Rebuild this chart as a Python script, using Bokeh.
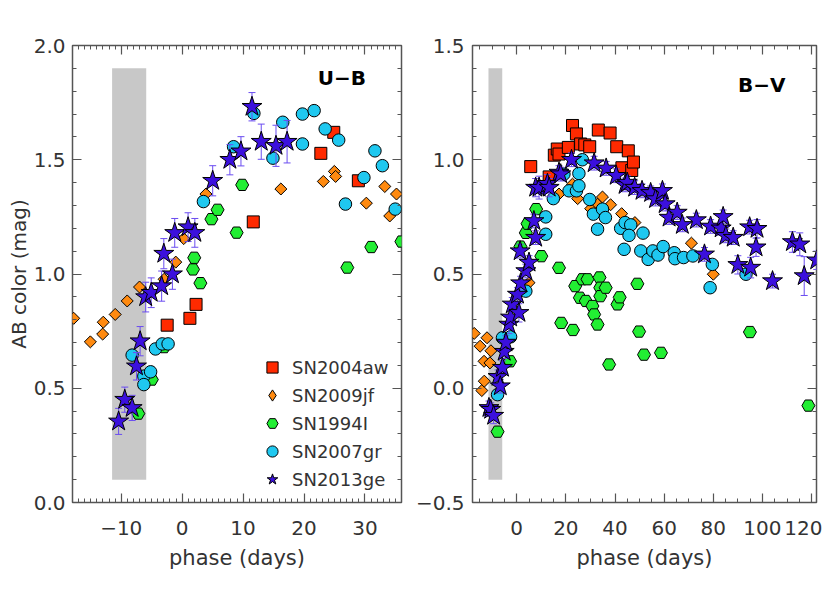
import numpy as np
from bokeh.plotting import figure
from bokeh.layouts import row
from bokeh.models import FixedTicker, LinearAxis, Range1d, Label, Legend, LegendItem
from bokeh.embed import file_html
from bokeh.resources import INLINE

# ---------------- data: U-B panel ----------------
ub_04aw_x = [-2.46, 1.27, 2.28, 11.67, 22.76, 24.88, 28.92]
ub_04aw_y = [0.776, 0.806, 0.867, 1.228, 1.528, 1.62, 1.408]

ub_09jf_x = [-17.8, -15.07, -13.05, -12.95, -10.99, -9.02, -7.0, -2.96, -1.05, 0.26, 3.9,
             16.2, 23.17, 24.98, 25.19, 30.23, 33.26, 34.07, 35.18]
ub_09jf_y = [0.806, 0.703, 0.737, 0.789, 0.823, 0.882, 0.943, 0.977, 1.052, 1.155, 1.35,
             1.372, 1.405, 1.449, 1.427, 1.31, 1.383, 1.254, 1.35]

ub_94I_x = [-7.2, -4.98, -2.96, 1.78, 1.98, 2.99, 4.8, 5.81, 8.94, 9.85, 27.1, 31.04, 35.98]
ub_94I_y = [0.389, 0.538, 0.68, 1.02, 1.071, 0.96, 1.24, 1.281, 1.181, 1.39, 1.028, 1.118, 1.142]

ub_07gr_x = [-8.21, -6.29, -6.29, -5.18, -4.38, -3.27, -2.31, 3.49, 8.44, 11.77, 14.9, 16.51,
             19.74, 19.74, 21.66, 23.47, 25.69, 26.8, 29.83, 31.64, 32.86, 34.97]
ub_07gr_y = [0.645, 0.553, 0.516, 0.572, 0.672, 0.694, 0.694, 1.317, 1.557, 1.703, 1.507, 1.664,
             1.70, 1.569, 1.715, 1.635, 1.586, 1.306, 1.422, 1.539, 1.474, 1.284]

ub_13ge_x = [-10.43, -9.42, -8.21, -7.5, -6.9, -5.99, -5.08, -3.37, -3.01, -1.6, -1.22, 0.97,
             2.08, 5.01, 7.83, 9.65, 11.46, 12.98, 15.4, 17.22]
ub_13ge_y = [0.355, 0.45, 0.414, 0.596, 0.706, 0.899, 0.918, 0.947, 1.089, 0.999, 1.18, 1.205,
             1.18, 1.408, 1.50, 1.537, 1.732, 1.579, 1.561, 1.579]
ub_13ge_e = [0.057, 0.055, 0.055, 0.06, 0.064, 0.065, 0.065, 0.066, 0.066, 0.066, 0.063, 0.063,
             0.063, 0.066, 0.066, 0.064, 0.062, 0.077, 0.09, 0.093]

# ---------------- data: B-V panel ----------------
bv_04aw_x = [5.7, 13.2, 15.3, 16.5, 17.2, 21.0, 22.7, 24.3, 26.0, 27.7, 29.7, 33.2, 38.0,
             40.7, 42.8, 45.4, 46.8, 47.5]
bv_04aw_y = [0.97, 0.925, 1.02, 1.047, 1.025, 1.054, 1.15, 1.113, 1.069, 1.065, 1.057, 1.13,
             1.117, 1.057, 0.965, 1.039, 0.953, 0.99]

bv_09jf_x = [-17.3, -14.9, -14.2, -13.3, -13.2, -12.1, -10.9, -10.5, 5.0, 17.2, 22.7, 24.8,
             30.1, 32.9, 34.9, 38.2, 42.7, 48.1, 71.1, 80.0]
bv_09jf_y = [0.24, 0.184, -0.01, 0.118, 0.031, 0.221, 0.111, 0.164, 0.462, 0.85, 0.893, 0.83,
             0.786, 0.806, 0.837, 0.803, 0.764, 0.725, 0.635, 0.499]

bv_94I_x = [-7.8, -2.7, 1.5, 3.7, 4.4, 7.9, 10.0, 17.2, 18.1, 22.9, 23.8, 25.7, 26.7, 28.1,
            28.8, 30.8, 31.5, 32.9, 33.7, 34.0, 34.0, 36.2, 37.6, 41.0, 41.9, 49.1, 49.8,
            51.8, 58.7, 94.9, 118.7]
bv_94I_y = [-0.19, 0.118, 0.62, 0.68, 0.72, 0.784, 0.578, 0.527, 0.286, 0.255, 0.447, 0.396,
            0.477, 0.382, 0.477, 0.36, 0.323, 0.279, 0.485, 0.44, 0.403, 0.44, 0.104, 0.367,
            0.398, 0.457, 0.248, 0.147, 0.155, 0.246, -0.076]

bv_07gr_x = [-7.8, -5.8, -2.5, 3.7, 11.8, 11.8, 14.9, 19.2, 21.3, 24.3, 25.3, 25.3, 26.7,
             29.7, 31.2, 34.9, 36.1, 32.9, 42.3, 44.1, 46.4, 45.7, 43.7, 51.4, 50.5, 53.5,
             55.4, 57.5, 59.6, 64.1, 64.4, 67.9, 71.7, 79.6, 78.7, 93.3]
bv_07gr_y = [-0.028, 0.221, 0.225, 0.425, 0.75, 0.674, 0.83, 0.937, 0.864, 0.864, 0.94, 0.886,
             1.0, 0.826, 0.762, 0.784, 0.747, 0.696, 0.70, 0.725, 0.715, 0.669, 0.608, 0.679,
             0.601, 0.564, 0.601, 0.583, 0.62, 0.593, 0.567, 0.572, 0.579, 0.542, 0.44, 0.499]

bv_13ge_x = [-11.3, -10.6, -9.4, -7.6, -6.7, -5.8, -5.1, -4.4, -3.2, -2.5, -1.8, 0.3, 0.9,
             1.6, 1.4, 3.7, 5.0, 7.0, 7.7, 7.7, 9.1, 12.5, 13.2, 17.2, 17.9, 22.3, 31.5,
             36.4, 40.5, 44.1, 45.0, 48.0, 51.0, 54.5, 56.5, 59.3, 60.4, 62.0, 65.3, 67.4,
             73.1, 76.4, 78.9, 83.2, 84.0, 85.1, 88.1, 90.0, 94.8, 95.2, 97.4, 97.8, 104.1,
             112.2, 115.2, 117.0, 122.1]
bv_13ge_y = [-0.086, -0.094, -0.12, 0.05, 0.009, 0.09, 0.16, 0.2, 0.279, 0.31, 0.367, 0.41,
             0.33, 0.46, 0.60, 0.513, 0.55, 0.732, 0.659, 0.878, 0.878, 0.895, 0.878, 0.944,
             0.937, 1.0, 0.985, 0.962, 0.93, 0.89, 0.90, 0.878, 0.864, 0.855, 0.828, 0.864,
             0.806, 0.747, 0.769, 0.715, 0.736, 0.586, 0.708, 0.70, 0.75, 0.667, 0.659, 0.54,
             0.705, 0.528, 0.617, 0.698, 0.469, 0.64, 0.63, 0.491, 0.56]
bv_13ge_e = [0.03, 0.03, 0.035, 0.03, 0.03, 0.03, 0.03, 0.03, 0.04, 0.03, 0.03, 0.03, 0.04,
             0.03, 0.03, 0.03, 0.03, 0.03, 0.03, 0.04, 0.05, 0.04, 0.04, 0.03, 0.03, 0.03,
             0.03, 0.03, 0.03, 0.03, 0.03, 0.03, 0.03, 0.03, 0.03, 0.03, 0.03, 0.03, 0.03,
             0.03, 0.03, 0.03, 0.03, 0.03, 0.03, 0.03, 0.03, 0.04, 0.03, 0.045, 0.04, 0.04,
             0.03, 0.045, 0.05, 0.085, 0.04]

# shaded epoch band (phase range) and its vertical extent in each panel
band_x = [-11.5, -5.9]
band_ub_y = [0.1, 1.9]
band_bv_y = [-0.4, 1.4]

names = ["SN2004aw", "SN2009jf", "SN1994I", "SN2007gr", "SN2013ge"]

# ticks
ub_xticks = [-10, 0, 10, 20, 30]
ub_xlabels = ["\u221210", "0", "10", "20", "30"]
ub_yticks = [0.0, 0.5, 1.0, 1.5, 2.0]
ub_ylabels = ["0.0", "0.5", "1.0", "1.5", "2.0"]
bv_xticks = [0, 20, 40, 60, 80, 100, 120]
bv_xlabels = ["0", "20", "40", "60", "80", "100", "120"]
bv_yticks = [-0.5, 0.0, 0.5, 1.0, 1.5]
bv_ylabels = ["\u22120.5", "0.0", "0.5", "1.0", "1.5"]

FONT = "DejaVu Sans"
TXT = "#333333"
TICK = "#555555"
C_RED, C_ORG, C_GRN, C_CYN, C_BLU, C_ERR = "#ff2a00", "#ff8a10", "#22ee33", "#1fc8f0", "#3b10dd", "#6a4cf0"


def style_axis(ax, ticks, minor, labels, show):
    ax.ticker = FixedTicker(ticks=ticks, minor_ticks=list(minor))
    ax.axis_line_color = None
    ax.major_tick_in = 9
    ax.major_tick_out = 0
    ax.minor_tick_in = 4
    ax.minor_tick_out = 0
    ax.major_tick_line_color = TICK
    ax.minor_tick_line_color = TICK
    ax.major_tick_line_width = 1.2
    ax.minor_tick_line_width = 1
    ax.major_label_text_font = FONT
    ax.major_label_text_font_size = "20px"
    ax.major_label_text_color = TXT
    if show:
        ax.major_label_overrides = {t: l for t, l in zip(ticks, labels)}
    else:
        ax.major_label_overrides = {t: "" for t in ticks}
        ax.major_label_standoff = 0


def make_fig(width, left, right, xr, yr, xt, xmin, xl, yt, ymin, yl):
    p = figure(width=width, height=582, x_range=Range1d(*xr), y_range=Range1d(*yr),
               output_backend="svg", toolbar_location=None,
               min_border_left=left, min_border_right=right,
               min_border_top=45, min_border_bottom=80)
    p.grid.visible = False
    p.outline_line_color = "#555555"
    p.outline_line_width = 1.5
    p.background_fill_color = "white"
    p.border_fill_color = "white"
    style_axis(p.xaxis[0], xt, xmin, xl, True)
    style_axis(p.yaxis[0], yt, ymin, yl, True)
    p.xaxis[0].major_label_standoff = 18
    p.yaxis[0].major_label_standoff = 8
    p.xaxis[0].axis_label = "phase (days)"
    p.xaxis[0].axis_label_text_font = FONT
    p.xaxis[0].axis_label_text_font_size = "21px"
    p.xaxis[0].axis_label_text_font_style = "normal"
    p.xaxis[0].axis_label_text_color = TXT
    p.xaxis[0].axis_label_standoff = 8
    top = LinearAxis()
    style_axis(top, xt, xmin, xl, False)
    p.add_layout(top, "above")
    rgt = LinearAxis()
    style_axis(rgt, yt, ymin, yl, False)
    p.add_layout(rgt, "right")
    return p


def draw(p, band_y, d04, d09, d94, d07, d13):
    p.quad(left=[band_x[0]], right=[band_x[1]], bottom=[band_y[0]], top=[band_y[1]],
           fill_color="#c8c8c8", line_color=None)
    r1 = p.scatter(d04[0], d04[1], marker="square", size=12, fill_color=C_RED,
                   line_color="black", line_width=1)
    p.scatter(d09[0], d09[1], marker="square", angle=np.pi / 4, size=8.5,
              fill_color=C_ORG, line_color="black", line_width=1)
    # hidden copy used only for the legend's diamond symbol
    r2 = p.scatter(d09[0], d09[1], marker="diamond", size=13, fill_color=C_ORG,
                   line_color="black", line_width=1, visible=False)
    r3 = p.scatter(d94[0], d94[1], marker="hex", size=13, fill_color=C_GRN,
                   line_color="black", line_width=1)
    r4 = p.scatter(d07[0], d07[1], marker="circle", size=12.5, fill_color=C_CYN,
                   line_color="black", line_width=1)
    x, y, e = np.array(d13[0]), np.array(d13[1]), np.array(d13[2])
    p.segment(x0=x, y0=y - e, x1=x, y1=y + e, line_color=C_ERR, line_width=1)
    p.scatter(x, y + e, marker="dash", size=7, line_color=C_ERR, line_width=1)
    p.scatter(x, y - e, marker="dash", size=7, line_color=C_ERR, line_width=1)
    r5 = p.scatter(x, y, marker="star", size=21, fill_color=C_BLU,
                   line_color="black", line_width=1)
    return [r1, r2, r3, r4, r5]


p1 = make_fig(408, 72, 7, (-18, 36), (0, 2.0), ub_xticks, np.arange(-18, 37, 1), ub_xlabels,
              ub_yticks, np.arange(0, 2.01, 0.1), ub_ylabels)
rs = draw(p1, band_ub_y, (ub_04aw_x, ub_04aw_y), (ub_09jf_x, ub_09jf_y), (ub_94I_x, ub_94I_y),
          (ub_07gr_x, ub_07gr_y), (ub_13ge_x, ub_13ge_y, ub_13ge_e))

p1.yaxis[0].axis_label = "AB color (mag)"
p1.yaxis[0].axis_label_text_font = FONT
p1.yaxis[0].axis_label_text_font_size = "20px"
p1.yaxis[0].axis_label_text_font_style = "normal"
p1.yaxis[0].axis_label_text_color = TXT
p1.yaxis[0].axis_label_standoff = 0
p1.yaxis[0].major_label_standoff = 7

legend = Legend(items=[LegendItem(label=n, renderers=[r]) for n, r in zip(names, rs)],
                location=(186, 9), glyph_width=28, glyph_height=28, spacing=-5, padding=0,
                margin=0, label_standoff=6, label_text_font=FONT, label_text_font_size="18px",
                label_text_color=TXT, border_line_color=None, background_fill_alpha=0,
                click_policy="none", inactive_fill_alpha=0)
p1.add_layout(legend)

p1.add_layout(Label(x=26.2, y=1.858, text="U\u2212B", text_align="center", text_baseline="middle",
                    text_font=FONT, text_font_size="20px", text_font_style="bold",
                    text_color="black"))

p2 = make_fig(414, 64, 6, (-18, 122), (-0.5, 1.5), bv_xticks, np.arange(-15, 123, 5), bv_xlabels,
              bv_yticks, np.arange(-0.5, 1.51, 0.1), bv_ylabels)
draw(p2, band_bv_y, (bv_04aw_x, bv_04aw_y), (bv_09jf_x, bv_09jf_y), (bv_94I_x, bv_94I_y),
     (bv_07gr_x, bv_07gr_y), (bv_13ge_x, bv_13ge_y, bv_13ge_e))
p2.add_layout(Label(x=99.7, y=1.326, text="B\u2212V", text_align="center", text_baseline="middle",
                    text_font=FONT, text_font_size="20px", text_font_style="bold",
                    text_color="black"))

layout = row(p1, p2)
open("out.html", "w").write(file_html(layout, INLINE))
